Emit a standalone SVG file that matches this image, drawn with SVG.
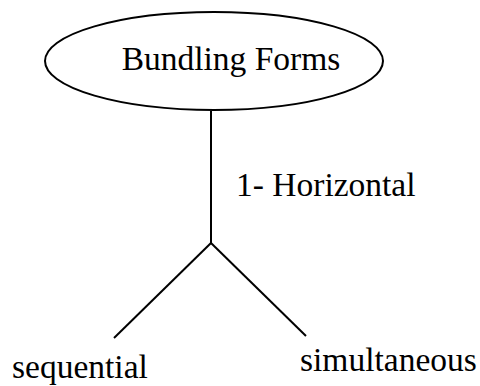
<svg xmlns="http://www.w3.org/2000/svg" width="480" height="386" viewBox="0 0 480 386">
<style>
text{font-family:"Liberation Serif","Times New Roman",serif;font-size:33.5px;fill:#000}
.ln{stroke:#000;fill:none;stroke-width:2}
</style>
<rect width="480" height="386" fill="#fff"/>
<g id="root">
<ellipse cx="214" cy="61" rx="169" ry="49" fill="#fff" stroke="#000" stroke-width="2"/>
<text x="231" y="70" text-anchor="middle">Bundling Forms</text>
</g>
<g id="connectors">
<line class="ln" x1="211" y1="111" x2="211" y2="243" stroke-width="2.5"/>
<line class="ln" x1="211" y1="243" x2="114" y2="338"/>
<line class="ln" x1="211" y1="243" x2="306" y2="336"/>
<text x="236" y="196">1- Horizontal</text>
</g>
<g id="sequential"><text x="12" y="378">sequential</text></g>
<g id="simultaneous"><text x="300" y="371">simultaneous</text></g>
</svg>
